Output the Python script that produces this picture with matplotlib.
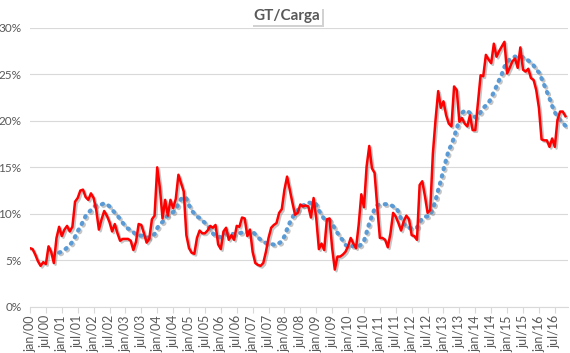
import matplotlib
matplotlib.use("Agg")
import matplotlib.pyplot as plt
import matplotlib.patheffects as pe
from matplotlib.ticker import PercentFormatter
import pandas as pd

# GT/Carga, monthly, jan/00 .. nov/16 (in %)
gt_carga = [
    6.3, 6.2, 5.6, 4.9, 4.4, 4.8, 4.6, 6.5, 5.9, 4.7, 7.4, 8.6,
    7.6, 8.3, 8.7, 8.1, 8.6, 11.3, 11.7, 12.5, 12.6, 11.8, 11.5, 12.2,
    11.7, 10.4, 8.3, 9.4, 10.3, 9.8, 9.1, 8.1, 8.9, 7.9, 7.1, 7.3,
    7.3, 7.3, 7.1, 6.1, 7.0, 8.9, 8.8, 7.9, 6.9, 7.3, 9.4, 9.8,
    15.0, 12.8, 9.5, 11.5, 9.8, 11.5, 10.6, 11.6, 14.2, 13.3, 12.4, 7.7,
    6.3, 5.8, 5.7, 7.4, 8.2, 7.9, 7.9, 8.2, 8.7, 8.5, 8.8, 6.7,
    6.2, 8.1, 8.5, 7.2, 7.7, 7.2, 8.7, 8.6, 9.6, 9.5, 7.6, 8.3,
    5.9, 4.7, 4.5, 4.4, 4.7, 5.9, 7.4, 8.5, 8.8, 9.0, 10.1, 10.5,
    12.6, 14.0, 12.6, 11.2, 9.9, 10.1, 11.0, 10.8, 10.9, 10.8, 9.6, 11.7,
    9.5, 6.2, 6.8, 6.1, 9.4, 9.5, 6.3, 4.0, 5.4, 5.4, 5.6, 5.9,
    6.5, 7.4, 6.8, 6.3, 8.8, 12.1, 10.7, 15.1, 17.3, 14.9, 14.4, 10.8,
    7.4, 7.4, 7.2, 6.4, 7.9, 10.1, 9.7, 9.0, 8.2, 9.2, 9.8, 9.4,
    7.7, 7.6, 7.2, 13.1, 13.5, 11.9, 10.1, 10.4, 16.5, 20.1, 23.2, 21.4,
    22.1, 20.6, 19.7, 19.4, 23.7, 23.3, 19.9, 20.3, 19.7, 19.4, 20.6, 19.0,
    19.0, 21.9, 24.9, 24.8, 27.1, 26.6, 26.2, 28.3, 26.9, 27.5, 28.0, 28.5,
    25.1, 25.7, 26.4, 26.7, 25.7, 27.9, 25.5, 25.3, 25.6, 24.6, 24.4, 23.3,
    21.4, 18.0, 17.9, 17.9, 17.2, 18.1, 17.2, 20.1, 21.0, 21.0, 20.5,
]

meses = ["jan", "jul"]
rotulos = []
for ano in range(0, 17):
    for m in meses:
        rotulos.append(f"{m}/{ano:02d}")

x = list(range(len(gt_carga)))
media12 = pd.Series(gt_carga).rolling(12).mean()

plt.rcParams["font.family"] = ["Lato", "DejaVu Sans"]
cinza = "#595959"

fig = plt.figure(figsize=(5.7, 3.53), dpi=100)
ax = fig.add_axes([0.0526, 0.131, 0.944, 0.79])

sombra = [pe.SimpleLineShadow(offset=(1.2, -1.2), shadow_color="#808080", alpha=0.45), pe.Normal()]
ax.plot(x, media12, color="#5B9BD5", linewidth=3.0, linestyle=(0, (0.3, 1.5)),
        dash_capstyle="round", path_effects=sombra, zorder=2)
ax.plot(x, gt_carga, color="#FF0000", linewidth=1.8, path_effects=sombra, zorder=3)

ax.set_ylim(0, 30)
ax.set_yticks(range(0, 31, 5))
ax.yaxis.set_major_formatter(PercentFormatter(decimals=0))
ax.set_xlim(0, 203)
ax.set_xticks(range(0, 6 * len(rotulos), 6))
ax.set_xticklabels(rotulos, rotation=90)

ax.grid(axis="y", color="#D9D9D9", linewidth=0.8)
ax.set_axisbelow(True)
for s in ["top", "right", "left"]:
    ax.spines[s].set_visible(False)
ax.spines["bottom"].set_color("#D9D9D9")
ax.tick_params(axis="y", length=0, labelsize=8.5, colors=cinza, pad=6)
ax.tick_params(axis="x", length=4, color="#D9D9D9", labelsize=9, labelcolor=cinza, pad=2)

fig.text(0.503, 0.955, "GT/Carga", ha="center", va="center", fontsize=11, fontweight="bold",
         color=cinza,
         bbox=dict(boxstyle="square,pad=0.15", facecolor="white", edgecolor="none"))
t = fig.texts[0]
t.get_bbox_patch().set_path_effects([pe.SimplePatchShadow(offset=(1.5, -1.5), alpha=0.25), pe.Normal()])

fig.savefig("out.png", dpi=100)
